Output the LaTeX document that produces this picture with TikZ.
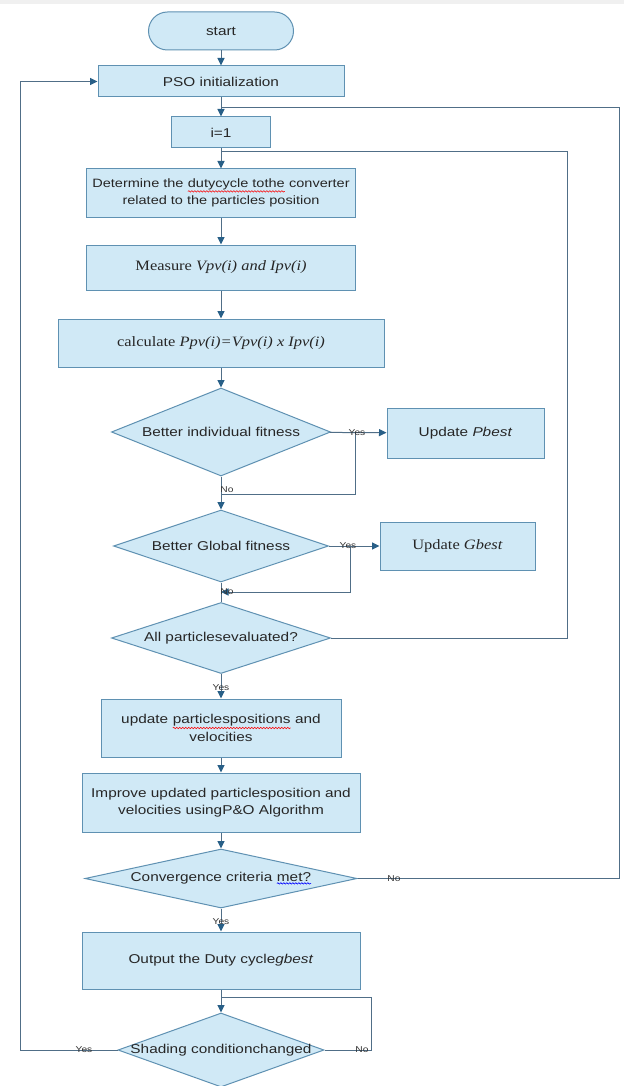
\documentclass[tikz,border=0pt]{standalone}
\usepackage{fontspec}
\setmainfont{Liberation Sans}[FakeStretch=1.2]
\newfontfamily\serf{Liberation Serif}[FakeStretch=1.15]
\usetikzlibrary{shapes.geometric,arrows.meta,decorations.pathmorphing}
\definecolor{fillc}{RGB}{208,233,246}
\definecolor{bordc}{RGB}{95,145,178}
\definecolor{linec}{RGB}{80,110,135}
\definecolor{arrc}{RGB}{40,95,135}
\newcommand\sansfs{\fontsize{12.8}{17.5}\selectfont}
\newcommand\sansfsb{\fontsize{12.1}{17.5}\selectfont}
\newcommand\seriffs{\serf\fontsize{14.3}{17}\selectfont}
\newcommand\wavyu[2][red]{\tikz[baseline=(w.base),x=1pt,y=1pt]{\node[shape=rectangle,draw=none,fill=none,inner sep=0pt,outer sep=0pt,minimum width=0pt,minimum height=0pt,rounded corners=0pt](w){#2};\draw[#1,fill=none,line width=0.6pt,decorate,decoration={snake,amplitude=0.7pt,segment length=3pt}]([yshift=-1.5pt]w.south west)--([yshift=-1.5pt]w.south east);}}
\begin{document}
\begin{tikzpicture}[x=1pt,y=-1pt,
 box/.style={draw=bordc,fill=fillc,line width=1pt,inner sep=0pt,align=center,font=\sansfs,text=black!85},
 dec/.style={diamond,draw=bordc,fill=fillc,line width=1pt,inner sep=0pt,inner ysep=-3pt,align=center,font=\sansfs,text=black!85},
 conn/.style={draw=linec,line width=1pt},
 arr/.style={conn,-{Triangle[length=7.5pt,width=7pt,color=arrc]}},
 lbl/.style={font=\fontsize{8.5}{9}\selectfont,text=black!80,inner sep=0pt}]
\useasboundingbox (0,0) rectangle (624,1086);
\clip (0,0) rectangle (624,1086);
\fill[white] (0,0) rectangle (624,1086);
\fill[gray!12] (0,0) rectangle (624,4);
% nodes
\node[box,rounded corners=19pt,minimum width=145pt,minimum height=38pt] (start) at (221,31) {start};
\node[box,minimum width=246pt,minimum height=31pt] (pso) at (221,81.5) {PSO initialization};
\node[box,minimum width=99pt,minimum height=31pt] (ione) at (221,132.5) {i=1};
\node[box,minimum width=269pt,minimum height=48pt,font=\sansfsb] (det) at (221,193) {Determine the \wavyu{dutycycle tothe} converter\\related to the particles position};
\node[box,minimum width=269pt,minimum height=45pt,font=\seriffs] (meas) at (221,267.5) {Measure \textit{Vpv(i) and Ipv(i)}};
\node[box,minimum width=326pt,minimum height=48pt,font=\seriffs] (calc) at (221,343) {calculate \textit{Ppv(i)=Vpv(i) x Ipv(i)}};
\node[dec,aspect=2.5,minimum width=219pt,minimum height=88pt] (dA) at (221,432) {Better individual fitness};
\node[box,minimum width=157pt,minimum height=50pt] (pb) at (465.5,433) {Update \textit{Pbest}};
\node[dec,aspect=3,minimum width=215pt,minimum height=72pt] (dB) at (221,546) {Better Global fitness};
\node[box,minimum width=155pt,minimum height=48pt,font=\seriffs] (gb) at (457.5,546) {Update \textit{Gbest}};
\node[dec,aspect=3.1,minimum width=219pt,minimum height=71pt] (dC) at (221,638) {All particlesevaluated?};
\node[box,minimum width=240pt,minimum height=58pt] (upd) at (221,728) {update \wavyu{particlespositions} and\\velocities};
\node[box,minimum width=278pt,minimum height=59pt] (imp) at (221,802.5) {Improve updated particlesposition and\\velocities usingP\&O Algorithm};
\node[dec,aspect=4.6,minimum width=272pt,minimum height=59pt] (conv) at (221,878.5) {Convergence criteria \wavyu[blue]{met?}};
\node[box,minimum width=278pt,minimum height=57pt] (out) at (221,960.5) {Output the Duty cycle\textit{gbest}};
\node[dec,aspect=2.8,minimum width=206pt,minimum height=74pt] (shd) at (221,1050) {Shading conditionchanged};
% coordinates
\coordinate (jA) at (355,433);
\coordinate (jAb) at (221,494);
\coordinate (jB) at (350,546);
\coordinate (jBb) at (221,592);
\coordinate (iLc) at (567,152);
\coordinate (iL) at (221,152);
\coordinate (oLc) at (619,108);
\coordinate (oL) at (221,108);
\coordinate (sLc) at (371,997);
\coordinate (sL) at (221,997);
\coordinate (lc) at (20,81.5);
% connectors
\draw[arr] (start) -- (pso);
\draw[arr] (pso) -- (ione);
\draw[arr] (ione) -- (det);
\draw[arr] (det) -- (meas);
\draw[arr] (meas) -- (calc);
\draw[arr] (calc) -- (dA);
\draw[arr] (dA) -- (pb);
\draw[conn] (jA) |- (jAb);
\draw[arr] (dA) -- (dB);
\draw[arr] (dB) -- (gb);
\draw[arr] (jB) |- (jBb);
\draw[conn] (dB) -- (dC);
\draw[conn] (dC.east) -| (iLc) -- (iL);
\draw[arr] (dC) -- (upd);
\draw[arr] (upd) -- (imp);
\draw[arr] (imp) -- (conv);
\draw[conn] (conv.east) -| (oLc) -- (oL);
\draw[arr] (conv) -- (out);
\draw[arr] (out) -- (shd);
\draw[conn] (shd.east) -| (sLc) -- (sL);
\draw[arr] (shd.west) -| (lc) -- (pso.west);
% labels
\node[lbl] (yA) at (357,433) {Yes};
\node[lbl] (nA) at (227,490) {No};
\node[lbl] (yB) at (348,546) {Yes};
\node[lbl] (nB) at (227,592) {No};
\node[lbl] (yC) at (221,688) {Yes};
\node[lbl] (nConv) at (394,879) {No};
\node[lbl] (yConv) at (221,922) {Yes};
\node[lbl] (yS) at (84,1050) {Yes};
\node[lbl] (nS) at (362,1050) {No};
\end{tikzpicture}
\end{document}
